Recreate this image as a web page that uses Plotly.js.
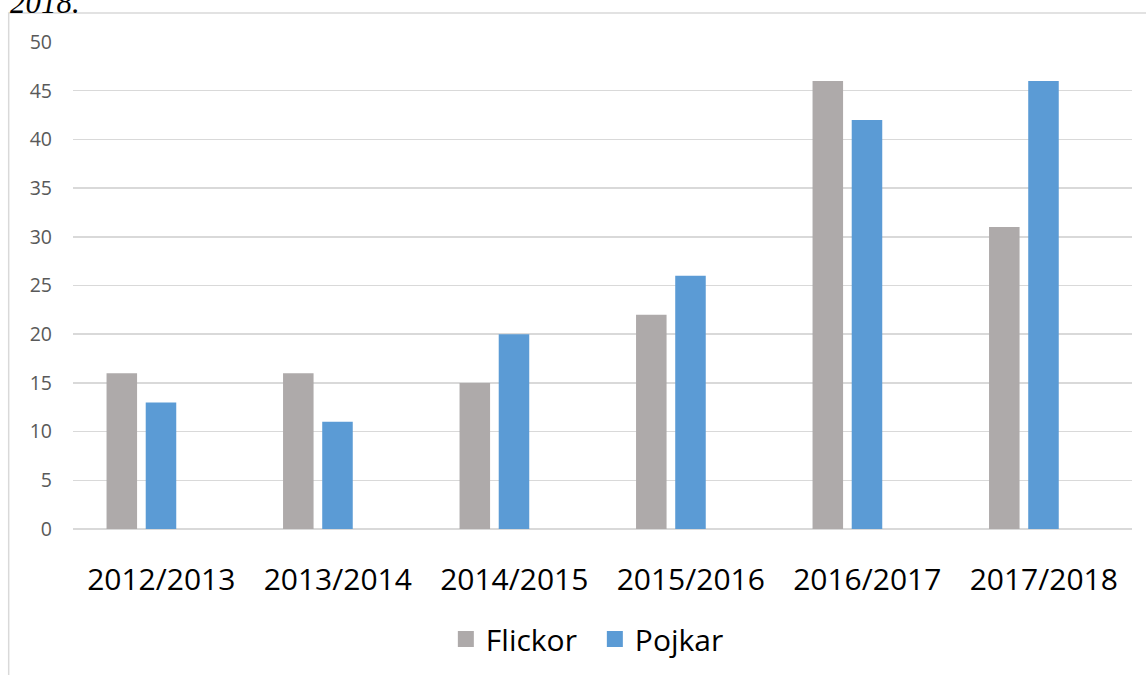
<!DOCTYPE html>
<html>
<head>
<meta charset="utf-8">
<script src="https://cdn.plot.ly/plotly-3.0.1.min.js"></script>
<style>html,body{margin:0;padding:0;background:#fff;}#chart{width:1146px;height:675px;}</style>
</head>
<body>
<div id="chart"></div>
<script>
const categories = ["2012/2013", "2013/2014", "2014/2015", "2015/2016", "2016/2017", "2017/2018"];
const flickor = [16, 16, 15, 22, 46, 31];
const pojkar = [13, 11, 20, 26, 42, 46];
const yTicks = [0, 5, 10, 15, 20, 25, 30, 35, 40, 45, 50];

const FONT = '"Open Sans", "Noto Sans", sans-serif';
const W = 1146, H = 675;
const L = 73.3, R = 14, T = 42, B = 146;
const pw = W - L - R, ph = H - T - B;
const px2x = p => (p - L) / pw;
const py2y = p => (H - B - p) / ph;

const traces = [
  {type: 'bar', name: 'Flickor', x: categories, y: flickor, width: 0.173, offset: -0.31,
   marker: {color: '#AEAAAA'}, showlegend: false, hoverinfo: 'x+y+name'},
  {type: 'bar', name: 'Pojkar', x: categories, y: pojkar, width: 0.173, offset: -0.088,
   marker: {color: '#5B9BD5'}, showlegend: false, hoverinfo: 'x+y+name'},
  {type: 'scatter', mode: 'markers', name: 'Flickor', x: [null], y: [null],
   marker: {symbol: 'square', size: 19, color: '#AEAAAA'}, showlegend: true},
  {type: 'scatter', mode: 'markers', name: 'Pojkar', x: [null], y: [null],
   marker: {symbol: 'square', size: 19, color: '#5B9BD5'}, showlegend: true}
];

const layout = {
  width: W, height: H,
  margin: {l: L, r: R, t: T, b: B, autoexpand: false},
  paper_bgcolor: '#fff', plot_bgcolor: '#fff',
  font: {family: FONT, color: '#000'},
  xaxis: {type: 'category', range: [-0.5, 5.5], showgrid: false, showline: false, zeroline: false,
    ticks: '', ticklabelstandoff: 30, tickfont: {size: 30, color: '#000', family: FONT}},
  yaxis: {range: [0, 50], tickvals: yTicks, ticktext: yTicks.map(String), showgrid: true,
    gridcolor: '#D9D9D9', gridwidth: 1.5, zeroline: true, zerolinecolor: '#D9D9D9', zerolinewidth: 1.5,
    showline: false, ticks: '', ticklabelstandoff: 20, tickfont: {size: 19.5, color: '#595959', family: FONT}},
  showlegend: true,
  legend: {orientation: 'h', x: px2x(595), xanchor: 'center', y: py2y(639), yanchor: 'middle',
    font: {size: 30, color: '#000', family: FONT}, itemwidth: 30, entrywidth: 104, entrywidthmode: 'pixels',
    bgcolor: 'rgba(0,0,0,0)'},
  shapes: [
    {type: 'rect', xref: 'paper', yref: 'paper', x0: px2x(9), x1: px2x(1160), y0: py2y(700), y1: py2y(13),
     line: {color: '#D9D9D9', width: 1.5}, fillcolor: 'rgba(0,0,0,0)', layer: 'below'}
  ],
  annotations: [
    {text: '2018.', xref: 'paper', yref: 'paper', x: px2x(8), xanchor: 'left', y: py2y(22.5), yanchor: 'bottom',
     showarrow: false, font: {family: '"Liberation Serif", "DejaVu Serif", serif', size: 31, color: '#000', style: 'italic'}}
  ]
};

Plotly.newPlot('chart', traces, layout, {displayModeBar: false, staticPlot: true});
</script>
</body>
</html>
